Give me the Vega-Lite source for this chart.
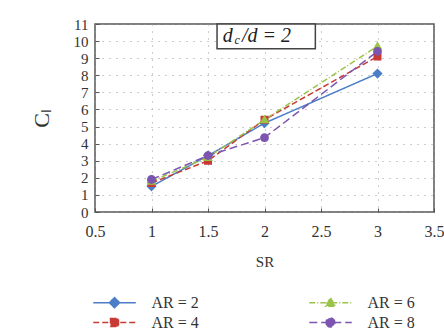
{
  "$schema": "https://vega.github.io/schema/vega-lite/v6.json",
  "width": 339,
  "height": 188,
  "autosize": "none",
  "padding": {"left": 95, "top": 24, "right": 10, "bottom": 121},
  "background": "white",
  "config": {
    "font": "Liberation Serif",
    "view": {"stroke": "#555555", "strokeWidth": 1.5},
    "axis": {
      "labelFont": "Liberation Serif",
      "titleFont": "Liberation Serif",
      "labelColor": "#333333",
      "titleColor": "#333333",
      "domain": false,
      "tickColor": "#555555",
      "gridColor": "#9a9a9a",
      "gridDash": [1, 6],
      "gridWidth": 1,
      "labelOverlap": false,
      "labelBound": false
    },
    "legend": {
      "title": null, "orient": "none", "legendX": 10, "legendY": 269,
      "direction": "horizontal", "columns": 2, "columnPadding": 107, "rowPadding": 2,
      "labelFont": "Liberation Serif",
      "labelFontSize": 16, "labelColor": "#333333", "symbolSize": 289, "labelOffset": 27.5,
      "symbolStrokeWidth": 1.5
    }
  },
  "datasets": {
    "main": [
      {"SR": 1, "CL": 1.5, "AR": "AR = 2"},
      {"SR": 1.5, "CL": 3.3, "AR": "AR = 2"},
      {"SR": 2, "CL": 5.2, "AR": "AR = 2"},
      {"SR": 3, "CL": 8.1, "AR": "AR = 2"},
      {"SR": 1, "CL": 1.7, "AR": "AR = 4"},
      {"SR": 1.5, "CL": 3.0, "AR": "AR = 4"},
      {"SR": 2, "CL": 5.4, "AR": "AR = 4"},
      {"SR": 3, "CL": 9.1, "AR": "AR = 4"},
      {"SR": 1, "CL": 1.8, "AR": "AR = 6"},
      {"SR": 1.5, "CL": 3.2, "AR": "AR = 6"},
      {"SR": 2, "CL": 5.4, "AR": "AR = 6"},
      {"SR": 3, "CL": 9.7, "AR": "AR = 6"},
      {"SR": 1, "CL": 1.9, "AR": "AR = 8"},
      {"SR": 1.5, "CL": 3.3, "AR": "AR = 8"},
      {"SR": 2, "CL": 4.35, "AR": "AR = 8"},
      {"SR": 3, "CL": 9.4, "AR": "AR = 8"}
    ]
  },
  "encoding": {
    "x": {
      "field": "SR", "type": "quantitative", "title": "SR",
      "scale": {"domain": [0.5, 3.5], "nice": false},
      "axis": {"values": [0.5, 1, 1.5, 2, 2.5, 3, 3.5], "format": "~g", "labelFontSize": 16, "titleFontSize": 15, "titleFontWeight": "normal", "tickSize": -4, "labelPadding": 15, "titlePadding": 15, "labelFlush": false}
    },
    "y": {
      "field": "CL", "type": "quantitative", "title": "Cₗ",
      "scale": {"domain": [0, 11], "nice": false},
      "axis": {"values": [0,1,2,3,4,5,6,7,8,9,10,11], "labelFontSize": 15, "titleFontSize": 22, "titleFontWeight": "normal", "tickSize": -4, "labelPadding": 11, "titlePadding": 20}
    }
  },
  "layer": [
    {
      "data": {"name": "main"},
      "mark": {"type": "line", "strokeWidth": 1.5},
      "encoding": {
        "color": {
          "field": "AR", "type": "nominal",
          "scale": {"domain": ["AR = 2", "AR = 6", "AR = 4", "AR = 8"], "range": ["#4a7fc8", "#9bc34a", "#c83a35", "#7b55b0"]}
        },
        "strokeDash": {
          "field": "AR", "type": "nominal",
          "scale": {"domain": ["AR = 2", "AR = 6", "AR = 4", "AR = 8"], "range": [[1, 0], [6, 2, 1, 2], [6, 3], [8, 4]]}
        }
      }
    },
    {
      "data": {"name": "main"},
      "mark": {"type": "point", "filled": true, "opacity": 1, "size": 289},
      "encoding": {
        "color": {
          "field": "AR", "type": "nominal",
          "scale": {"domain": ["AR = 2", "AR = 6", "AR = 4", "AR = 8"], "range": ["#4a7fc8", "#9bc34a", "#c83a35", "#7b55b0"]},
          "legend": {
            "encode": {"symbols": {"update": {"stroke": {"scale": "color", "field": "value"}, "strokeWidth": {"value": 1.5}, "opacity": {"value": 1}}}}
          }
        },
        "shape": {
          "field": "AR", "type": "nominal",
          "scale": {
            "domain": ["AR = 2", "AR = 6", "AR = 4", "AR = 8"],
            "range": [
              "M-2.5,0H2.5M0,-0.6L0.6,0L0,0.6L-0.6,0Z",
              "M-2.5,0H2.5M0,-0.58L0.58,0.42H-0.58Z",
              "M-2.5,0H2.5M-0.47,-0.47H0.47V0.47H-0.47Z",
              "M-2.5,0H2.5M-0.52,0A0.52,0.52 0 1 0 0.52,0A0.52,0.52 0 1 0 -0.52,0Z"
            ]
          }
        },
        "strokeDash": {
          "field": "AR", "type": "nominal",
          "scale": {"domain": ["AR = 2", "AR = 6", "AR = 4", "AR = 8"], "range": [[1, 0], [6, 2, 1, 2], [6, 3], [8, 4]]}
        }
      }
    },
    {
      "data": {"values": [{"SR": 1.58, "SR2": 2.45, "CL": 9.55, "CL2": 11}]},
      "mark": {"type": "rect", "fill": "white", "stroke": "#444444", "strokeWidth": 1.5},
      "encoding": {
        "x2": {"field": "SR2"},
        "y2": {"field": "CL2"}
      }
    },
    {
      "data": {"values": [{"SR": 1.63, "CL": 10.3, "t": "d"}, {"SR": 1.8, "CL": 10.3, "t": "/d = 2"}]},
      "mark": {"type": "text", "align": "left", "baseline": "middle", "fontSize": 20, "fontStyle": "italic", "font": "Liberation Serif", "color": "#222222"},
      "encoding": {
        "text": {"field": "t"}
      }
    },
    {
      "data": {"values": [{"SR": 1.735, "CL": 10.05, "t": "c"}]},
      "mark": {"type": "text", "align": "left", "baseline": "middle", "fontSize": 12, "fontStyle": "italic", "font": "Liberation Serif", "color": "#222222"},
      "encoding": {
        "text": {"field": "t"}
      }
    }
  ]
}
